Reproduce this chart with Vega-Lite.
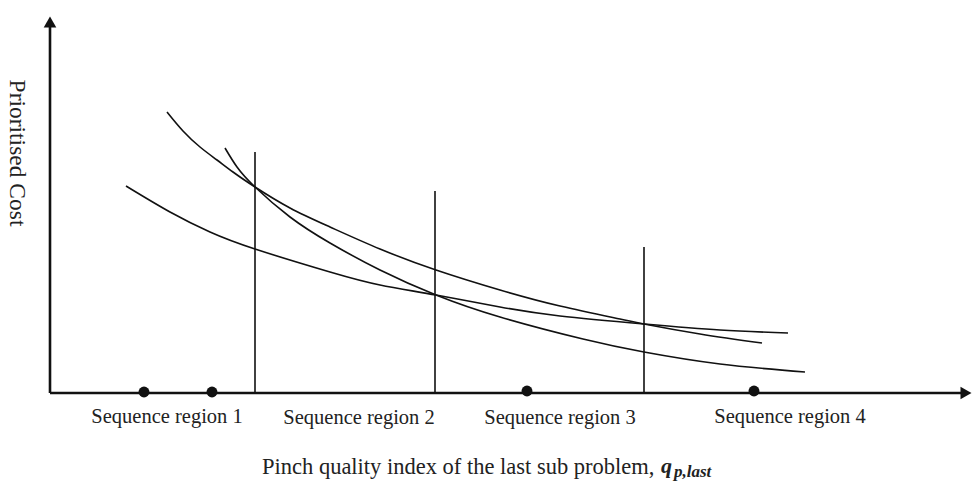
{
  "$schema": "https://vega.github.io/schema/vega-lite/v6.json",
  "width": 978,
  "height": 487,
  "autosize": {"type": "fit", "contains": "padding"},
  "padding": 0,
  "background": "white",
  "config": {"view": {"stroke": null}},
  "datasets": {
    "curves": [
      {"series": "A", "px": 225, "py": 148}, {"series": "A", "px": 237, "py": 167}, {"series": "A", "px": 255, "py": 187},
      {"series": "A", "px": 290, "py": 217}, {"series": "A", "px": 330, "py": 243}, {"series": "A", "px": 380, "py": 270},
      {"series": "A", "px": 436, "py": 295}, {"series": "A", "px": 500, "py": 317}, {"series": "A", "px": 583, "py": 339},
      {"series": "A", "px": 644, "py": 352}, {"series": "A", "px": 720, "py": 364}, {"series": "A", "px": 805, "py": 372},
      {"series": "B", "px": 167, "py": 112}, {"series": "B", "px": 183, "py": 131}, {"series": "B", "px": 200, "py": 147},
      {"series": "B", "px": 217, "py": 160}, {"series": "B", "px": 233, "py": 172}, {"series": "B", "px": 255, "py": 187},
      {"series": "B", "px": 290, "py": 208}, {"series": "B", "px": 330, "py": 227}, {"series": "B", "px": 380, "py": 249},
      {"series": "B", "px": 436, "py": 270}, {"series": "B", "px": 500, "py": 290}, {"series": "B", "px": 560, "py": 306},
      {"series": "B", "px": 620, "py": 319}, {"series": "B", "px": 644, "py": 324}, {"series": "B", "px": 700, "py": 334},
      {"series": "B", "px": 762, "py": 343},
      {"series": "C", "px": 126, "py": 186}, {"series": "C", "px": 170, "py": 212}, {"series": "C", "px": 210, "py": 232},
      {"series": "C", "px": 255, "py": 249}, {"series": "C", "px": 330, "py": 272}, {"series": "C", "px": 380, "py": 285},
      {"series": "C", "px": 436, "py": 295}, {"series": "C", "px": 500, "py": 307}, {"series": "C", "px": 560, "py": 316},
      {"series": "C", "px": 644, "py": 324}, {"series": "C", "px": 720, "py": 330}, {"series": "C", "px": 788, "py": 333}
    ],
    "vlines": [
      {"px": 255, "py": 152, "py2": 393},
      {"px": 435, "py": 191, "py2": 393},
      {"px": 644, "py": 247, "py2": 393}
    ],
    "axes": [
      {"px": 50, "py": 393, "px2": 50, "py2": 22},
      {"px": 50, "py": 393, "px2": 962, "py2": 393}
    ],
    "arrows": [
      {"px": 50, "py": 22, "dir": "up"},
      {"px": 966, "py": 393, "dir": "right"}
    ],
    "dots": [
      {"px": 144, "py": 392}, {"px": 212, "py": 392}, {"px": 527, "py": 391}, {"px": 754, "py": 391}
    ],
    "labels": [
      {"px": 167, "py": 417, "label": "Sequence region 1"},
      {"px": 359, "py": 418, "label": "Sequence region 2"},
      {"px": 560, "py": 418, "label": "Sequence region 3"},
      {"px": 790, "py": 417, "label": "Sequence region 4"}
    ]
  },
  "encoding": {
    "x": {"field": "px", "type": "quantitative", "scale": {"domain": [0, 978], "nice": false, "zero": false}, "axis": null},
    "y": {"field": "py", "type": "quantitative", "scale": {"domain": [0, 487], "nice": false, "zero": false, "reverse": true}, "axis": null}
  },
  "layer": [
    {
      "data": {"name": "curves"},
      "mark": {"type": "line", "interpolate": "natural", "color": "#111111", "strokeWidth": 1.6},
      "encoding": {"detail": {"field": "series"}, "order": {"field": "px", "type": "quantitative"}}
    },
    {
      "data": {"name": "vlines"},
      "mark": {"type": "rule", "color": "#111111", "strokeWidth": 1.6},
      "encoding": {"y2": {"field": "py2"}}
    },
    {
      "data": {"name": "axes"},
      "mark": {"type": "rule", "color": "#111111", "strokeWidth": 2.6},
      "encoding": {"x2": {"field": "px2"}, "y2": {"field": "py2"}}
    },
    {
      "data": {"name": "arrows"},
      "transform": [{"filter": "datum.dir === 'up'"}],
      "mark": {"type": "point", "shape": "triangle-up", "filled": true, "color": "#111111", "size": 160, "opacity": 1}
    },
    {
      "data": {"name": "arrows"},
      "transform": [{"filter": "datum.dir === 'right'"}],
      "mark": {"type": "point", "shape": "triangle-right", "filled": true, "color": "#111111", "size": 160, "opacity": 1}
    },
    {
      "data": {"name": "dots"},
      "mark": {"type": "circle", "color": "#111111", "size": 120, "opacity": 1}
    },
    {
      "data": {"name": "labels"},
      "mark": {"type": "text", "font": "Liberation Serif", "fontSize": 20.5, "color": "#222222", "align": "center", "baseline": "middle"},
      "encoding": {"text": {"field": "label"}}
    },
    {
      "data": {"values": [{"px": 262, "py": 467, "label": "Pinch quality index of the last sub problem,"}]},
      "mark": {"type": "text", "font": "Liberation Serif", "fontSize": 22.5, "color": "#222222", "align": "left", "baseline": "middle"},
      "encoding": {"text": {"field": "label"}}
    },
    {
      "data": {"values": [{"px": 661, "py": 466, "label": "q"}]},
      "mark": {"type": "text", "font": "Liberation Serif", "fontStyle": "italic", "fontWeight": "bold", "fontSize": 22, "color": "#222222", "align": "left", "baseline": "middle"},
      "encoding": {"text": {"field": "label"}}
    },
    {
      "data": {"values": [{"px": 674, "py": 472, "label": "p,last"}]},
      "mark": {"type": "text", "font": "Liberation Serif", "fontStyle": "italic", "fontWeight": "bold", "fontSize": 17, "color": "#222222", "align": "left", "baseline": "middle"},
      "encoding": {"text": {"field": "label"}}
    },
    {
      "data": {"values": [{"px": 17, "py": 153, "label": "Prioritised Cost"}]},
      "mark": {"type": "text", "font": "Liberation Serif", "fontSize": 23.5, "color": "#222222", "align": "center", "baseline": "middle", "angle": 90},
      "encoding": {"text": {"field": "label"}}
    }
  ]
}
